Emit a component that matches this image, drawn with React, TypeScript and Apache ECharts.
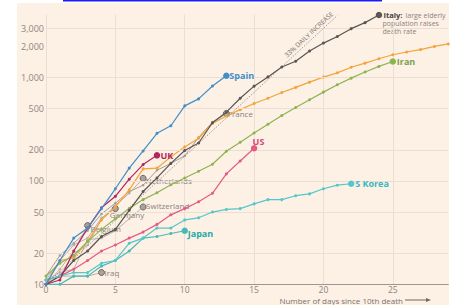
import React, { useEffect, useRef } from 'react';
import * as echarts from 'echarts';

// ---- data ----
const yTicks = [10, 20, 50, 100, 200, 500, 1000, 2000, 3000];
const yNoGrid = [10, 2000];
const xStep = 5;
const dayMax = 29;
const yMin = 10;
const yMax = 4100;

const spain = [10, 17, 28, 35, 54, 84, 133, 195, 289, 342, 533, 623, 830, 1043];
const italy = [10, 12, 17, 21, 29, 34, 52, 79, 107, 148, 197, 233, 366, 463, 631, 827, 1016, 1266, 1441, 1809, 2158, 2503, 2978, 3405, 4032];
const iran = [12, 16, 19, 26, 34, 43, 54, 66, 77, 92, 107, 124, 145, 194, 237, 291, 354, 429, 514, 611, 724, 853, 988, 1135, 1284, 1433];
const china = [10, 17, 18, 26, 42, 56, 82, 131, 133, 171, 213, 259, 361, 425, 490, 562, 632, 717, 804, 904, 1011, 1113, 1259, 1380, 1523, 1665, 1770, 1868, 2004, 2118];
const uk = [10, 11, 21, 35, 55, 71, 104, 144, 177];
const us = [11, 12, 14, 17, 21, 24, 28, 32, 38, 47, 54, 63, 76, 117, 156, 207];
const sKorea = [11, 12, 13, 13, 16, 17, 25, 28, 35, 35, 42, 44, 50, 53, 54, 60, 66, 66, 72, 75, 84, 91, 94];
const japan = [10, 10, 12, 12, 15, 17, 21, 28, 29, 31, 33];
const france = [12, 19, 25, 33, 48, 61, 79, 91, 127, 148, 175, 264, 372, 450];
const netherlands = [10, 12, 20, 24, 43, 58, 76, 106];
const germany = [11, 17, 24, 28, 44, 54];
const switzerland = [11, 13, 14, 27, 28, 33, 43, 56];
const belgium = [10, 14, 21, 37];
const iraq = [11, 12, 12, 12, 13];

const guideStart = [0, 10];
const guideEnd = [21, 3990];
const guideText = '33% DAILY INCREASE';
const italyNote = ['large elderly', 'population raises', 'death rate'];

const FONT = '"Open Sans", "Noto Sans", sans-serif';
const GREY_LABEL = '#8a827c';

type Cfg = {
  name: string;
  values: number[];
  color: string;
  width: number;
  dot: number;
  end: 'main' | 'grey' | 'plain';
  z: number;
  label?: any;
};

function makeSeries(c: Cfg) {
  const n = c.values.length;
  const data = c.values.map((v, i) => {
    const item: any = { value: [i, v] };
    if (i === n - 1) {
      if (c.end === 'main') item.symbolSize = 6.5;
      if (c.end === 'grey') {
        item.symbolSize = 6;
        item.itemStyle = { color: '#aaa29d', borderColor: '#6e6762', borderWidth: 1 };
      }
    }
    return item;
  });
  return {
    type: 'line',
    name: c.name,
    data,
    z: c.z,
    symbol: 'circle',
    symbolSize: c.dot,
    showAllSymbol: true,
    lineStyle: { color: c.color, width: c.width },
    itemStyle: { color: c.color },
    emphasis: { disabled: true },
    silent: true,
    clip: false,
    animation: false,
    endLabel: c.label
      ? { show: true, fontFamily: FONT, ...c.label }
      : { show: false },
  };
}

const bold = (color: string, extra: any = {}) => ({
  color,
  fontSize: 9,
  fontWeight: 'bold',
  ...extra,
});
const greyLbl = (extra: any = {}) => ({
  color: GREY_LABEL,
  fontSize: 8,
  ...extra,
});

export default function App() {
  const ref = useRef<HTMLDivElement>(null);
  useEffect(() => {
    const chart = echarts.init(ref.current!, null, { renderer: 'svg' });

    const cfgs: Cfg[] = [
      { name: 'Iraq', values: iraq, color: '#b9b1ab', width: 1, dot: 2.5, end: 'grey', z: 3, label: greyLbl({ formatter: 'Iraq', distance: 3 }) },
      { name: 'Belgium', values: belgium, color: '#b9b1ab', width: 1, dot: 2.5, end: 'grey', z: 3, label: greyLbl({ formatter: 'Belgium', distance: 3, offset: [0, 3] }) },
      { name: 'Germany', values: germany, color: '#b9b1ab', width: 1, dot: 2.5, end: 'grey', z: 3, label: greyLbl({ formatter: 'Germany', distance: 0, offset: [-5.5, 6] }) },
      { name: 'Switzerland', values: switzerland, color: '#b9b1ab', width: 1, dot: 2.5, end: 'grey', z: 3, label: greyLbl({ formatter: 'Switzerland', distance: 3, offset: [0, -1.5] }) },
      { name: 'Netherlands', values: netherlands, color: '#b9b1ab', width: 1, dot: 2.5, end: 'grey', z: 3, label: greyLbl({ formatter: 'Netherlands', distance: 2.5, offset: [0, 2] }) },
      { name: 'France', values: france, color: '#a59e98', width: 1, dot: 2.5, end: 'grey', z: 3, label: greyLbl({ formatter: 'France', distance: 1.5 }) },
      { name: 'China', values: china, color: '#f2a43a', width: 1.2, dot: 3, end: 'plain', z: 4 },
      { name: 'Iran', values: iran, color: '#8cb552', width: 1.2, dot: 3, end: 'main', z: 5, label: bold('#7aa24a', { formatter: 'Iran', distance: 4 }) },
      {
        name: 'Italy', values: italy, color: '#595654', width: 1.2, dot: 3, end: 'main', z: 6,
        label: {
          formatter: '{b|Italy:} {n|' + italyNote[0] + '}',
          distance: 4.5,
          rich: {
            b: { fontWeight: 'bold', color: '#46423f', fontSize: 7.5, fontFamily: FONT },
            n: { color: '#8b837e', fontSize: 7, fontFamily: FONT },
          },
        },
      },
      { name: 'US', values: us, color: '#e35b84', width: 1.2, dot: 3, end: 'main', z: 6, label: bold('#d6467a', { formatter: 'US', distance: 0, offset: [-1.5, -7] }) },
      { name: 'Japan', values: japan, color: '#45bab7', width: 1.2, dot: 3, end: 'main', z: 6, label: bold('#27aaa7', { formatter: 'Japan', distance: 3, offset: [0, 2.5] }) },
      { name: 'S Korea', values: sKorea, color: '#55c7ca', width: 1.2, dot: 3, end: 'main', z: 6, label: bold('#36b9be', { formatter: 'S Korea', distance: 4 }) },
      { name: 'UK', values: uk, color: '#b3265d', width: 1.2, dot: 3, end: 'main', z: 7, label: bold('#b3265d', { formatter: 'UK', distance: 3.5 }) },
      { name: 'Spain', values: spain, color: '#3f8fca', width: 1.2, dot: 3, end: 'main', z: 8, label: bold('#3f8fca', { formatter: 'Spain', distance: 3 }) },
    ];

    const gridMarks: any[] = yTicks.map((v) => ({
      yAxis: v,
      lineStyle: yNoGrid.includes(v)
        ? { color: 'rgba(0,0,0,0)', width: 1, type: 'solid' }
        : { color: '#ebdfd4', width: 1, type: 'solid' },
      label: {
        show: true,
        position: 'start',
        distance: 2,
        formatter: v.toLocaleString('en-US'),
        color: '#8e8680',
        fontSize: 9,
        fontFamily: FONT,
      },
    }));
    gridMarks.push([
      {
        coord: guideStart,
        lineStyle: { color: '#8c847e', width: 0.8, type: [1.5, 1.5] },
        label: {
          show: true,
          position: 'insideEndTop',
          formatter: guideText,
          color: '#7a726c',
          fontSize: 6.5,
          fontFamily: FONT,
          distance: 2,
        },
      },
      { coord: guideEnd },
    ]);

    const guideSeries = {
      type: 'line',
      name: 'guides',
      data: [[0, yMin]],
      symbol: 'none',
      lineStyle: { width: 0, opacity: 0 },
      z: 1,
      silent: true,
      animation: false,
      markLine: {
        silent: true,
        animation: false,
        symbol: ['none', 'none'],
        data: gridMarks,
      },
    };

    chart.setOption({
      animation: false,
      backgroundColor: '#ffffff',
      textStyle: { fontFamily: FONT },
      grid: { left: 46, right: 12.7, top: 14.3, bottom: 20.7, containLabel: false },
      xAxis: {
        type: 'value',
        min: 0,
        max: dayMax,
        interval: xStep,
        axisLine: { show: true, onZero: false, lineStyle: { color: '#9e958e', width: 1 } },
        axisTick: { show: false },
        axisLabel: {
          color: '#8b837e',
          fontSize: 8.5,
          margin: 1,
          formatter: (v: number) => (v % xStep === 0 ? String(v) : ''),
        },
        splitLine: { show: true, showMaxLine: false, lineStyle: { color: '#ebdfd4', width: 1 } },
      },
      yAxis: {
        type: 'log',
        logBase: 10,
        min: yMin,
        max: yMax,
        axisLine: { show: false },
        axisTick: { show: false },
        axisLabel: { show: false },
        splitLine: { show: false },
      },
      graphic: [
        { type: 'rect', z: -10, silent: true, shape: { x: 17, y: 3, width: 432, height: 302 }, style: { fill: '#fdf0e5' } },
        { type: 'rect', z: -10, silent: true, shape: { x: 63, y: 0, width: 319, height: 1.5 }, style: { fill: '#1a1aff' } },
        {
          type: 'text', silent: true, x: 382.5, y: 19.6,
          style: { text: italyNote[1], align: 'left', verticalAlign: 'top', fill: '#8b837e', fontSize: 7, fontFamily: FONT },
        },
        {
          type: 'text', silent: true, x: 382.5, y: 28.4,
          style: { text: italyNote[2], align: 'left', verticalAlign: 'top', fill: '#8b837e', fontSize: 7, fontFamily: FONT },
        },
        {
          type: 'text', silent: true, x: 403, y: 300,
          style: { text: 'Number of days since 10th death', align: 'right', verticalAlign: 'middle', fill: '#7b736d', fontSize: 8, fontFamily: FONT },
        },
        { type: 'line', silent: true, shape: { x1: 405, y1: 300, x2: 428, y2: 300 }, style: { stroke: '#6f6863', lineWidth: 1 } },
        { type: 'polygon', silent: true, shape: { points: [[426, 298], [431, 300], [426, 302]] }, style: { fill: '#6f6863' } },
      ],
      series: [guideSeries, ...cfgs.map(makeSeries)],
    });

    return () => chart.dispose();
  }, []);
  return <div ref={ref} style={{ position: 'fixed', left: 0, top: 0, width: 461, height: 305 }} />;
}
